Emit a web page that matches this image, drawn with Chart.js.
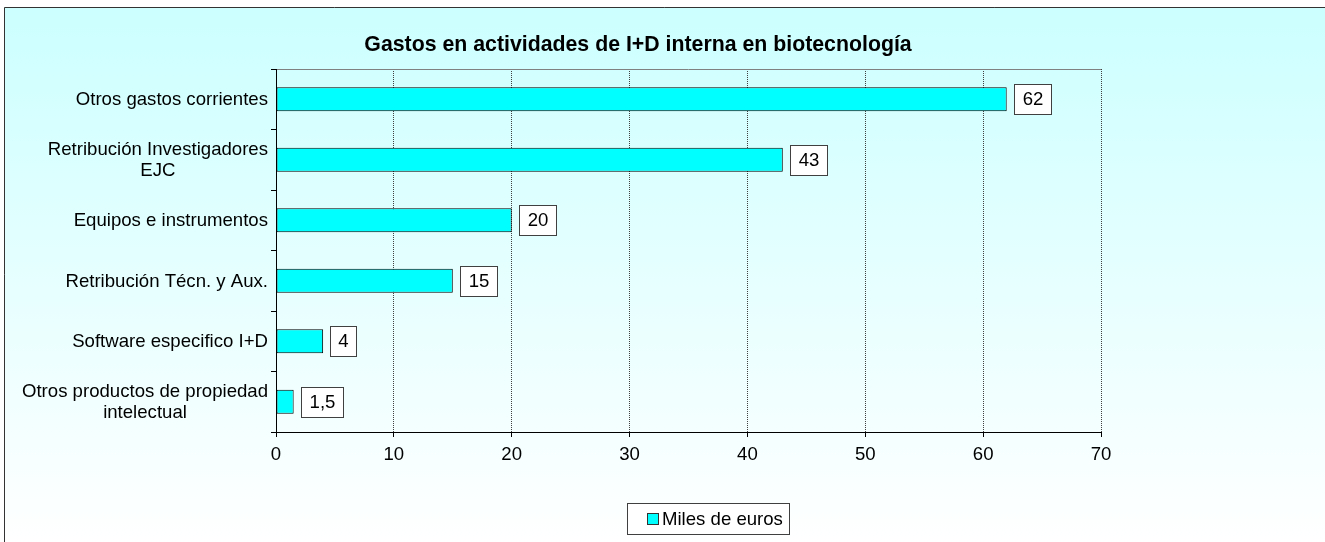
<!DOCTYPE html>
<html>
<head>
<meta charset="utf-8">
<script src="https://cdn.jsdelivr.net/npm/chart.js@4.4.1/dist/chart.umd.min.js"></script>
<style>
    html, body { margin: 0; padding: 0; background: #fff; }
    #wrap { width: 1325px; height: 542px; position: relative; }
</style>
</head>
<body>
<div id="wrap"><canvas id="gastosChart" width="1325" height="542"></canvas></div>
<script>
const chartTitle = 'Gastos en actividades de I+D interna en biotecnología';
const seriesName = 'Miles de euros';
const categories = [
    ['Otros gastos corrientes'],
    ['Retribución Investigadores', 'EJC'],
    ['Equipos e instrumentos'],
    ['Retribución Técn. y Aux.'],
    ['Software especifico I+D'],
    ['Otros productos de propiedad', 'intelectual']
];
const gastos = [62, 43, 20, 15, 4, 1.5];
const xTicks = [0, 10, 20, 30, 40, 50, 60, 70];

const FONT = 'Arial, "Liberation Sans", sans-serif';

function formatNum(v) {
    return String(v).replace('.', ',');
}

// background, borders, title, category labels, value boxes and legend
const excelLook = {
    id: 'excelLook',
    beforeDraw(chart) {
        const ctx = chart.ctx;
        const grad = ctx.createLinearGradient(0, 7, 0, chart.height);
        grad.addColorStop(0, '#ccffff');
        grad.addColorStop(1, '#ffffff');
        ctx.save();
        ctx.fillStyle = '#ffffff';
        ctx.fillRect(0, 0, chart.width, chart.height);
        ctx.fillStyle = grad;
        ctx.fillRect(4, 7, chart.width - 4, chart.height - 7);
        ctx.strokeStyle = '#333';
        ctx.lineWidth = 1;
        ctx.beginPath();
        ctx.moveTo(4.5, chart.height);
        ctx.lineTo(4.5, 7.5);
        ctx.lineTo(chart.width, 7.5);
        ctx.stroke();
        ctx.restore();
    },
    afterDraw(chart) {
        const ctx = chart.ctx;
        const area = chart.chartArea;
        const yScale = chart.scales.y;
        ctx.save();

        // top border of plot, axis lines
        ctx.lineWidth = 1;
        ctx.strokeStyle = '#808080';
        ctx.beginPath();
        ctx.moveTo(area.left, area.top + 0.5);
        ctx.lineTo(area.right, area.top + 0.5);
        ctx.stroke();
        ctx.strokeStyle = '#000';
        ctx.beginPath();
        ctx.moveTo(area.left + 0.5, area.top);
        ctx.lineTo(area.left + 0.5, area.bottom + 0.5);
        ctx.lineTo(area.right, area.bottom + 0.5);
        ctx.stroke();

        // title
        ctx.fillStyle = '#000';
        ctx.font = 'bold 21.3px ' + FONT;
        ctx.textAlign = 'center';
        ctx.textBaseline = 'middle';
        ctx.fillText(chartTitle, 638, 45);

        // category labels, lines centred on each other, right edge fixed
        ctx.font = '18.6px ' + FONT;
        const lineH = 21;
        categories.forEach((lines, i) => {
            const cy = yScale.getPixelForValue(i);
            const w = Math.max(...lines.map(l => ctx.measureText(l).width));
            const cx = area.left - 8 - w / 2;
            const y0 = cy - (lines.length - 1) * lineH / 2;
            lines.forEach((l, j) => ctx.fillText(l, cx, y0 + j * lineH + 1));
        });

        // value boxes
        const meta = chart.getDatasetMeta(0);
        meta.data.forEach((bar, i) => {
            const txt = formatNum(gastos[i]);
            const tw = ctx.measureText(txt).width;
            const bw = Math.round(tw + 16);
            const bh = 30;
            const bx = Math.round(bar.x + 7);
            const by = Math.round(bar.y - bh / 2);
            ctx.fillStyle = '#fff';
            ctx.fillRect(bx, by, bw, bh);
            ctx.strokeStyle = '#404040';
            ctx.strokeRect(bx + 0.5, by + 0.5, bw, bh);
            ctx.fillStyle = '#000';
            ctx.fillText(txt, bx + bw / 2 + 0.5, by + bh / 2 + 1);
        });

        // legend
        const ds = chart.data.datasets[0];
        const lw = ctx.measureText(seriesName).width;
        const boxW = Math.round(20 + 12 + 3 + lw + 6);
        const boxH = 31;
        const lx = Math.round(708 - boxW / 2);
        const ly = 503;
        ctx.fillStyle = '#fff';
        ctx.fillRect(lx, ly, boxW, boxH);
        ctx.strokeStyle = '#404040';
        ctx.strokeRect(lx + 0.5, ly + 0.5, boxW, boxH);
        ctx.fillStyle = ds.backgroundColor;
        ctx.fillRect(lx + 20, ly + 10, 12, 12);
        ctx.strokeStyle = '#333';
        ctx.strokeRect(lx + 20.5, ly + 10.5, 11, 11);
        ctx.fillStyle = '#000';
        ctx.textAlign = 'left';
        ctx.fillText(seriesName, lx + 35, ly + boxH / 2 + 1);

        ctx.restore();
    }
};

new Chart(document.getElementById('gastosChart').getContext('2d'), {
    type: 'bar',
    data: {
        labels: categories,
        datasets: [{
            label: seriesName,
            data: gastos,
            backgroundColor: '#00ffff',
            borderColor: '#000000',
            borderWidth: 1,
            borderSkipped: false,
            barPercentage: 0.4,
            categoryPercentage: 1.0
        }]
    },
    options: {
        indexAxis: 'y',
        responsive: false,
        animation: false,
        layout: {
            padding: { left: 0, top: 69, right: 224, bottom: 70 }
        },
        plugins: {
            legend: { display: false },
            title: { display: false },
            tooltip: { enabled: false }
        },
        scales: {
            x: {
                min: 0,
                max: 70,
                afterBuildTicks(scale) {
                    scale.ticks = xTicks.map(v => ({ value: v }));
                },
                afterFit(scale) {
                    scale.height = 40;
                },
                grid: {
                    color: '#404040',
                    tickLength: 5,
                    tickColor: '#000',
                    tickBorderDash: []
                },
                border: { color: '#000', width: 1, dash: [1, 1] },
                ticks: {
                    color: '#000',
                    padding: 7,
                    maxRotation: 0,
                    font: { family: FONT, size: 18.6 }
                }
            },
            y: {
                afterFit(scale) {
                    scale.width = 276;
                },
                grid: {
                    drawOnChartArea: false,
                    offset: true,
                    tickLength: 5,
                    color: '#000'
                },
                border: { color: '#000', width: 1 },
                ticks: { display: false }
            }
        }
    },
    plugins: [excelLook]
});
</script>
</body>
</html>
